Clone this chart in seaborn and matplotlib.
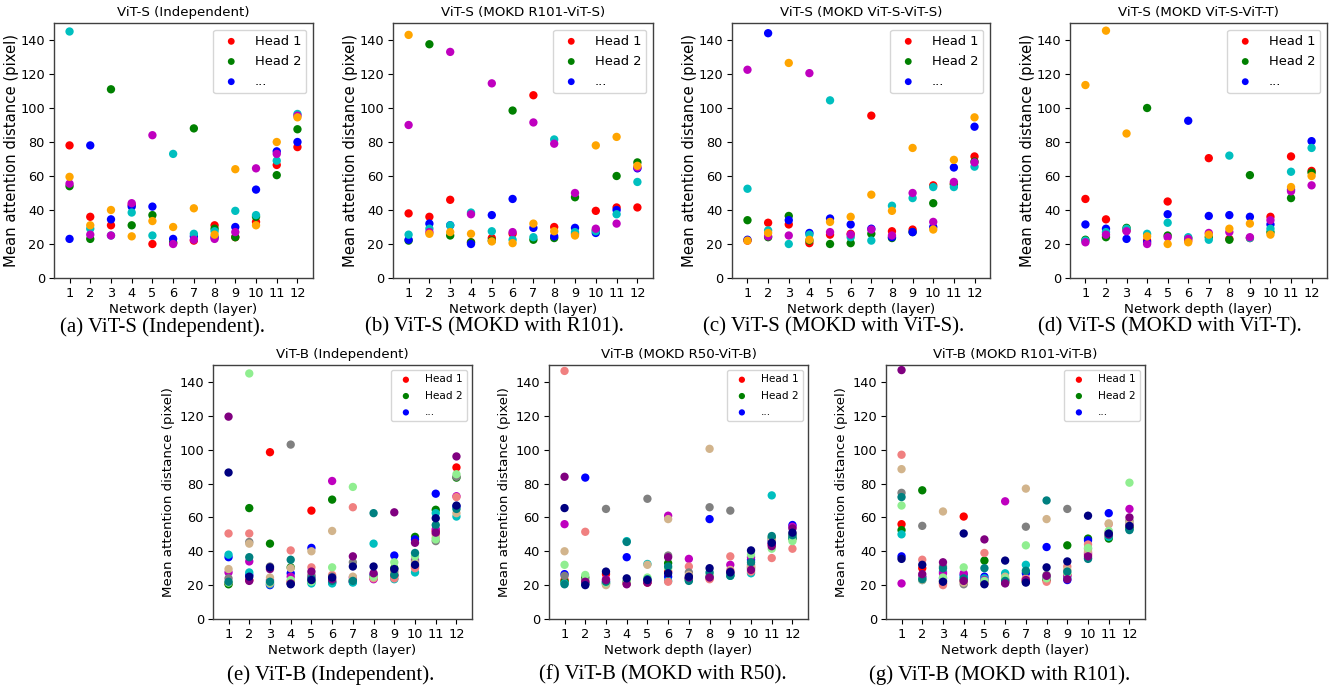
import matplotlib
matplotlib.use("Agg")
import matplotlib.pyplot as plt
import seaborn as sns
import numpy as np
import pandas as pd

# ---------------- data ----------------
layers = list(range(1, 13))
layer_labels = [str(i) for i in layers]
yticks = [0, 20, 40, 60, 80, 100, 120, 140]

legend_labels = ["Head 1", "Head 2", "..."]

vits_colors = ["red", "green", "blue", "c", "m", "orange"]
vitb_colors = ["red", "green", "blue", "c", "m", "lightcoral", "gray", "tan",
               "lightgreen", "teal", "purple", "navy"]

titles = ["ViT-S (Independent)", "ViT-S (MOKD R101-ViT-S)", "ViT-S (MOKD ViT-S-ViT-S)",
          "ViT-S (MOKD ViT-S-ViT-T)", "ViT-B (Independent)", "ViT-B (MOKD R50-ViT-B)",
          "ViT-B (MOKD R101-ViT-B)"]
captions = ["(a) ViT-S (Independent).", "(b) ViT-S (MOKD with R101).",
            "(c) ViT-S (MOKD with ViT-S).", "(d) ViT-S (MOKD with ViT-T).",
            "(e) ViT-B (Independent).", "(f) ViT-B (MOKD with R50).",
            "(g) ViT-B (MOKD with R101)."]

# rows = heads, columns = layers 1..12
vits_indep = [
    [78, 36, 31, 43, 20, 20.5, 22, 31, 24, 33, 66.5, 77],
    [54, 23, 111, 31, 37, 21, 88, 29, 24, 36, 60.5, 87.5],
    [23, 78, 34.5, 42, 42, 23, 24.5, 24, 30, 52, 74.5, 80],
    [145, 29, 25, 38.5, 25, 73, 26, 27.5, 39.5, 37, 69, 96.5],
    [55.5, 25.5, 25, 44, 84, 20, 22.5, 23, 27, 64.5, 73, 95.5],
    [59.5, 31, 40, 24.5, 33.5, 30, 41, 25.5, 64, 31, 80, 94.5],
]
vits_r101 = [
    [38, 36, 46, 21, 23.5, 26, 107.5, 30, 26, 39.5, 41.5, 41.5],
    [22, 137.5, 25, 21, 22, 98.5, 22.5, 23.5, 47.5, 28, 60, 68],
    [22.5, 32, 31, 20, 37, 46.5, 29.5, 24.5, 29.5, 26.5, 40, 64.5],
    [25.5, 29, 31, 38.5, 27.5, 22.5, 24, 81.5, 27, 27.5, 37.5, 56.5],
    [90, 27, 133, 37.5, 114.5, 27, 91.5, 79, 50, 29, 32, 65],
    [143, 26, 27, 26, 21.5, 20.5, 32, 27.5, 25, 78, 83, 66],
]
vits_vits = [
    [22, 32.5, 31.5, 20.5, 25.5, 26, 95.5, 27.5, 28.5, 54.5, 55.5, 71.5],
    [34, 24, 36.5, 22, 20, 20.5, 26, 23.5, 27, 44, 55, 68.5],
    [22.5, 144, 34, 26.5, 35, 31.5, 29, 24, 27, 30, 65, 89],
    [52.5, 28, 20, 25.5, 104.5, 24, 22, 42.5, 47, 53.5, 53.5, 65.5],
    [122.5, 24.5, 25, 120.5, 27, 25.5, 28.5, 25, 50, 33, 56.5, 68],
    [22, 26.5, 126.5, 22.5, 33, 36, 49, 39.5, 76.5, 28.5, 69.5, 94.5],
]
vits_vitt = [
    [46.5, 34.5, 28, 22, 45, 22, 70.5, 23, 23.5, 36, 71.5, 63],
    [22.5, 24, 29.5, 100, 25, 23.5, 24, 22.5, 60.5, 27, 47, 62],
    [31.5, 29, 23, 21, 37.5, 92.5, 36.5, 37, 36, 31.5, 52, 80.5],
    [22, 27, 29, 26, 32.5, 24, 22.5, 72, 23.5, 29, 62.5, 76.5],
    [21, 25.5, 27.5, 20, 24, 23, 26.5, 27, 24, 34, 51, 54.5],
    [113.5, 145.5, 85, 24.5, 20, 21, 25.5, 29, 32, 25.5, 53.5, 60],
]
vitb_indep = [
    [21, 23, 98.5, 22, 64, 22, 22, 24, 25.5, 31, 52, 89.5],
    [20.5, 65.5, 44.5, 30.5, 22, 70.5, 23, 25, 30, 48.5, 64.5, 83.5],
    [36.5, 26, 20, 27, 42, 21.5, 22, 26, 37.5, 47, 74, 66.5],
    [38, 27.5, 20.5, 21, 21, 21, 21.5, 44.5, 23.5, 27.5, 62.5, 60.5],
    [27.5, 34, 23, 25, 25, 81.5, 24.5, 23.5, 26, 35, 53, 72.5],
    [50.5, 50.5, 21, 40.5, 30.5, 26, 66, 24, 24, 30, 50, 72],
    [24, 45.5, 31, 103, 26, 25, 33.5, 25, 28, 34, 46, 84],
    [29.5, 44.5, 24.5, 30, 40, 52, 25, 24.5, 27, 33, 48, 62.5],
    [21.5, 145, 21.5, 23, 22, 30.5, 78, 25, 33.5, 37, 47, 85.5],
    [22, 36.5, 22, 35, 24, 22.5, 22.5, 62.5, 26, 39, 55.5, 65],
    [119.5, 22.5, 29.5, 21, 28, 23.5, 37, 27, 63, 45, 51, 96],
    [86.5, 25, 30.5, 20.5, 23, 24.5, 31, 31, 29.5, 32, 59.5, 67],
]
vitb_r50 = [
    [23, 21, 26.5, 21, 21.5, 28, 24, 24, 27, 31, 44, 48],
    [22, 24.5, 21, 22, 22, 33, 23.5, 25, 26, 30, 48, 47.5],
    [26.5, 83.5, 22, 36.5, 22.5, 25, 24, 59, 26.5, 35, 46, 55.5],
    [21, 20.5, 21, 46, 32.5, 22.5, 23, 24.5, 25.5, 27, 73, 48],
    [56, 22, 23.5, 21.5, 22, 61, 35.5, 25, 32, 36.5, 44.5, 54.5],
    [146.5, 51.5, 20.5, 21, 22, 22, 31, 23.5, 37, 28, 36, 41.5],
    [25.5, 23, 65, 22, 71, 37.5, 27.5, 66, 64, 32, 47, 50],
    [40, 21.5, 20, 21, 32, 59, 26, 100.5, 29, 30.5, 46.5, 50.5],
    [32, 26, 21.5, 22.5, 24.5, 30, 23, 26, 26.5, 38, 41.5, 46],
    [20.5, 21, 22, 45.5, 23.5, 31, 22.5, 27.5, 25.5, 33.5, 49, 49.5],
    [84, 22, 23, 20.5, 21.5, 36.5, 24.5, 24.5, 28, 29, 43, 53.5],
    [65.5, 20, 28, 24, 23, 27, 25, 30, 27.5, 40.5, 45, 51],
]
vitb_r101 = [
    [56, 30, 21, 60.5, 21, 22, 22.5, 23, 26, 38, 49, 53.5],
    [52.5, 76, 22.5, 23, 34.5, 21.5, 22, 23.5, 43.5, 47.5, 47.5, 54],
    [37, 24.5, 24, 26, 25, 23, 27, 42.5, 23, 46.5, 62.5, 56],
    [50, 23, 28, 25, 24, 27, 32, 24.5, 24.5, 36, 48.5, 53],
    [21, 25, 27, 27, 23, 69.5, 23.5, 24, 25.5, 39, 51, 65],
    [97, 35, 20, 22, 39, 22, 24, 22, 31, 44, 56, 55.5],
    [74.5, 55, 31, 20.5, 22, 23.5, 54.5, 26, 65, 41.5, 51.5, 58],
    [88.5, 23, 63.5, 21.5, 21.5, 25, 77, 59, 29, 40, 56.5, 57],
    [67, 24, 24.5, 30.5, 22.5, 24, 43.5, 24, 27, 42, 52, 80.5],
    [72, 23.5, 30, 24, 30, 22.5, 28.5, 70, 28, 35.5, 49.5, 52.5],
    [147, 26.5, 33.5, 22.5, 47, 21, 23, 25.5, 23.5, 37, 50, 60],
    [35.5, 32, 22, 50.5, 20.5, 34.5, 21.5, 30.5, 34, 61, 50.5, 55],
]

panels = [vits_indep, vits_r101, vits_vits, vits_vitt, vitb_indep, vitb_r50, vitb_r101]

# ---------------- layout (pixel boxes: left, top, right, bottom) ----------------
W, H = 1330, 687
boxes = [(54, 23, 313, 278), (393, 23, 653, 278), (732, 23, 990, 278), (1070, 23, 1327, 278),
         (213, 365, 472, 619), (549, 365, 808, 619), (886, 365, 1145, 619)]
caption_x = [163, 494, 834, 1170, 331, 663, 1000]
caption_y = [327, 327, 327, 327, 675, 675, 675]

plt.rcParams['font.family'] = ['DejaVu Sans']
fig = plt.figure(figsize=(W / 100, H / 100), dpi=100)

for i, (data, box) in enumerate(zip(panels, boxes)):
    l, t, r, b = box
    ax = fig.add_axes([l / W, 1 - b / H, (r - l) / W, (b - t) / H])
    colors = vits_colors if i < 4 else vitb_colors
    for h, (vals, col) in enumerate(zip(data, colors)):
        lab = legend_labels[h] if h < 3 else "_nolegend_"
        sns.scatterplot(x=layers, y=vals, color=col, s=36, linewidth=0,
                        edgecolor="none", ax=ax, label=lab, zorder=3)
    ax.set_xlim(0.25, 12.75)
    ax.set_ylim(0, 150)
    ax.set_xticks(layers)
    ax.set_xticklabels(layer_labels)
    ax.set_yticks(yticks)
    ax.tick_params(direction="out", labelsize=9.3, length=3.5, width=0.8, pad=3)
    for sp in ax.spines.values():
        sp.set_color("#404040")
        sp.set_linewidth(1.0)
    ax.set_title(titles[i], fontsize=9.6, pad=5)
    ax.set_xlabel("Network depth (layer)", fontsize=9.6, labelpad=2)
    if i < 4:
        ax.set_ylabel("Mean attention distance (pixel)", fontsize=10.7, labelpad=1)
        ax.legend(loc="upper right", fontsize=9.4, markerscale=0.82,
                  borderaxespad=0.5, labelspacing=0.55, handletextpad=0.8,
                  edgecolor="#cccccc")
    else:
        ax.set_ylabel("Mean attention distance (pixel)", fontsize=9.6, labelpad=3)
        ax.legend(loc="upper right", fontsize=7.6, markerscale=0.75,
                  borderaxespad=0.5, labelspacing=0.6, handletextpad=0.8,
                  edgecolor="#cccccc")
    fig.text(caption_x[i] / W, 1 - caption_y[i] / H, captions[i], ha="center",
             va="center", fontsize=15, family="Liberation Serif")

fig.savefig("out.png", dpi=100)
